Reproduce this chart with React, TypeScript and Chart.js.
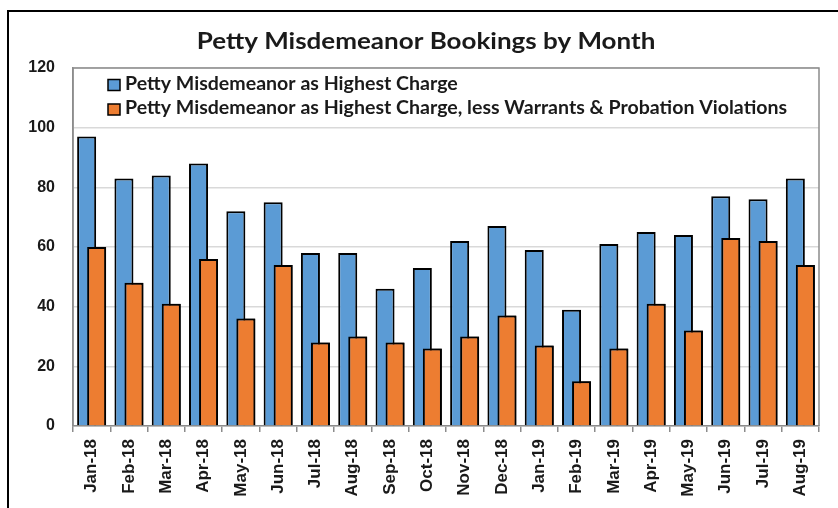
import React, { useEffect, useRef } from "react";
import { Chart, registerables } from "chart.js";

Chart.register(...registerables);

const categories = [
  "Jan-18", "Feb-18", "Mar-18", "Apr-18", "May-18", "Jun-18", "Jul-18", "Aug-18", "Sep-18", "Oct-18",
  "Nov-18", "Dec-18", "Jan-19", "Feb-19", "Mar-19", "Apr-19", "May-19", "Jun-19", "Jul-19", "Aug-19",
];
const highestCharge = [97, 83, 84, 88, 72, 75, 58, 58, 46, 53, 62, 67, 59, 39, 61, 65, 64, 77, 76, 83];
const lessWarrants = [60, 48, 41, 56, 36, 54, 28, 30, 28, 26, 30, 37, 27, 15, 26, 41, 32, 63, 62, 54];
const seriesNames = [
  "Petty Misdemeanor as Highest Charge",
  "Petty Misdemeanor as Highest Charge, less Warrants & Probation Violations",
];
const titleText = "Petty Misdemeanor Bookings by Month";
const yTicks = { min: 0, max: 120, step: 20 };

const BLUE = "#5B9BD5";
const ORANGE = "#ED7D31";
const AXIS_GRAY = "#8c8c8c";
const TEXT = "#1a1a1a";

const overlayPlugin = {
  id: "overlayPlugin",
  beforeDatasetsDraw(chart: any) {
    const { ctx, chartArea } = chart;
    ctx.save();
    ctx.strokeStyle = AXIS_GRAY;
    ctx.lineWidth = 1.5;
    ctx.beginPath();
    ctx.moveTo(chartArea.left, chartArea.bottom);
    ctx.lineTo(chartArea.left, chartArea.top);
    ctx.lineTo(chartArea.right, chartArea.top);
    ctx.lineTo(chartArea.right, chartArea.bottom);
    ctx.stroke();
    ctx.restore();
  },
  afterDatasetsDraw(chart: any) {
    // second series is drawn over the first, as in overlapping column charts
    const meta = chart.getDatasetMeta(1);
    if (meta && meta.controller) meta.controller.draw();
  },
  afterDraw(chart: any) {
    const { ctx, chartArea } = chart;
    // title
    ctx.save();
    ctx.fillStyle = TEXT;
    ctx.font = "bold 23px Lato";
    ctx.textAlign = "center";
    ctx.textBaseline = "alphabetic";
    ctx.translate(426, 48.5);
    ctx.scale(1.13, 1);
    ctx.fillText(titleText, 0, 0);
    ctx.restore();

    // legend
    const colors = [BLUE, ORANGE];
    seriesNames.forEach((name, i) => {
      const baseline = chartArea.top + 21.5 + i * 24.5;
      const mx = chartArea.left + 35;
      ctx.save();
      ctx.fillStyle = colors[i];
      ctx.fillRect(mx, baseline - 10, 12, 11);
      ctx.strokeStyle = "#000";
      ctx.lineWidth = 1.5;
      ctx.strokeRect(mx, baseline - 10, 12, 11);
      ctx.fillStyle = TEXT;
      ctx.font = "bold 18px Lato";
      ctx.textAlign = "left";
      ctx.textBaseline = "alphabetic";
      ctx.translate(chartArea.left + 52, baseline);
      ctx.scale(1.087, 1);
      ctx.fillText(name, 0, 0);
      ctx.restore();
    });
  },
};

export default function App() {
  const canvasRef = useRef<HTMLCanvasElement | null>(null);

  useEffect(() => {
    if (!canvasRef.current) return;
    const chart = new Chart(canvasRef.current, {
      type: "bar",
      data: {
        labels: categories,
        datasets: [
          {
            label: seriesNames[0],
            data: highestCharge,
            backgroundColor: BLUE,
            borderColor: "#000",
            borderWidth: 2,
            categoryPercentage: 0.537,
            barPercentage: 1.9,
          },
          {
            label: seriesNames[1],
            data: lessWarrants,
            backgroundColor: ORANGE,
            borderColor: "#000",
            borderWidth: 2,
            categoryPercentage: 0.537,
            barPercentage: 1.9,
          },
        ],
      },
      options: {
        animation: false,
        responsive: false,
        maintainAspectRatio: false,
        layout: { padding: { left: 18, right: 19, top: 68, bottom: 0 } },
        plugins: {
          legend: { display: false },
          tooltip: { enabled: false },
          title: { display: false },
        },
        scales: {
          x: {
            grid: {
              display: true,
              drawOnChartArea: false,
              drawTicks: true,
              tickLength: 6,
              offset: true,
              color: AXIS_GRAY,
              lineWidth: 1.5,
            },
            border: { display: true, color: AXIS_GRAY, width: 1.5 },
            ticks: {
              minRotation: 90,
              maxRotation: 90,
              autoSkip: false,
              padding: 7,
              color: TEXT,
              font: { family: "Liberation Sans", size: 17, weight: "bold" },
            },
            afterFit(scale: any) {
              scale.height = 82;
            },
          },
          y: {
            min: yTicks.min,
            max: yTicks.max,
            ticks: {
              stepSize: yTicks.step,
              padding: 18,
              color: TEXT,
              font: { family: "Liberation Sans", size: 16, weight: "bold" },
            },
            grid: { color: "#d9d9d9", lineWidth: 1.5, drawTicks: false },
            border: { display: true, color: AXIS_GRAY, width: 1.5 },
            afterFit(scale: any) {
              scale.width = 55;
            },
          },
        },
      },
      plugins: [overlayPlugin],
    });
    return () => chart.destroy();
  }, []);

  return (
    <div style={{ position: "fixed", left: 0, top: 0, width: 838, height: 508, background: "#fff", overflow: "hidden" }}>
      <div
        style={{
          position: "absolute",
          left: 7,
          top: 10,
          width: 1000,
          height: 1000,
          borderTop: "2px solid #000",
          borderLeft: "2px solid #000",
        }}
      />
      <canvas ref={canvasRef} width={838} height={508} style={{ position: "absolute", left: 0, top: 0 }} />
    </div>
  );
}
